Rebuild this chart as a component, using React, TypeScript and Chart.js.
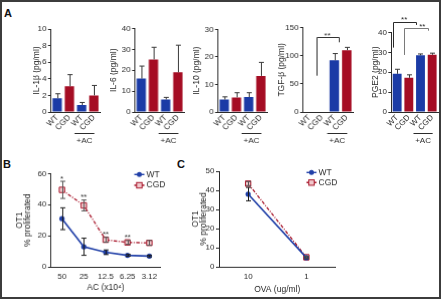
import React, { useEffect, useRef } from "react";
import { Chart, registerables } from "chart.js";

Chart.register(...registerables);

// ---------------- data ----------------
const barCategories = ["WT", "CGD", "WT", "CGD"];

const il1bValues = [1.65, 3.1, 0.85, 2.0];
const il1bErrors = [0.55, 1.4, 0.3, 1.2];

const il6Values = [16, 25.2, 6, 19];
const il6Errors = [6, 5.8, 1, 13];

const il10Values = [4.5, 5.3, 5.4, 13.1];
const il10Errors = [1, 1.7, 1.6, 4.9];

const tgfValues = [0, 0, 92, 110];
const tgfErrors = [0, 0, 12, 5];

const pge2Values = [19.2, 17.2, 28.5, 28.8];
const pge2Errors = [2.3, 1.5, 0.7, 0.8];

const acLabels = ["50", "25", "12.5", "6.25", "3.12"];
const wtAc = [31, 13, 9.5, 7.5, 7];
const wtAcErr = [7, 5.5, 1.5, 0.6, 0.5];
const cgdAc = [49.5, 39.5, 17.5, 15.8, 15.5];
const cgdAcErr = [5.5, 3.5, 1.5, 1.2, 1.5];
const acSignificance = ["*", "**", "**", "**", ""];

const ovaLabels = ["10", "1"];
const wtOva = [38, 4.8];
const wtOvaErr = [3.5, 0.5];
const cgdOva = [43.5, 5];
const cgdOvaErr = [1, 0.4];

// ---------------- styles ----------------
const FONT = '"Liberation Sans Narrow", "Liberation Sans", Arial, Helvetica, sans-serif';
const AXIS = "#2b2b2b";
const TXT = "#2b2b2b";
const BAR_BLUE = "#1b3ba6";
const BAR_RED = "#a50d24";
const LINE_BLUE = "#2140a8";
const LINE_RED = "#a8172b";
const SQ_FILL = "#f1c9cd";
const barColors = [BAR_BLUE, BAR_RED, BAR_BLUE, BAR_RED];
const TICK_SIZE = 8;
const TITLE_SIZE = 8.5;
const TITLE_LH = 0.9;

type Box = { left: number; top: number; width: number; height: number };
type Area = { left: number; right: number; top: number; bottom: number };

function layoutFor(box: Box, area: Area) {
  return {
    padding: {
      left: 0,
      top: area.top - box.top,
      right: box.left + box.width - area.right,
      bottom: 0,
    },
  };
}
const yFit = (w: number) => (s: any) => {
  s.width = w;
  s.paddingTop = 0;
  s.paddingBottom = 0;
  s.paddingLeft = 0;
  s.paddingRight = 0;
};
const xFit = (h: number) => (s: any) => {
  s.height = h;
  s.paddingTop = 0;
  s.paddingBottom = 0;
  s.paddingLeft = 0;
  s.paddingRight = 0;
};

function ChartCanvas({ box, build }: { box: Box; build: () => any }) {
  const ref = useRef<HTMLCanvasElement>(null);
  useEffect(() => {
    const chart = new Chart(ref.current as HTMLCanvasElement, build());
    return () => chart.destroy();
  }, []);
  return (
    <canvas
      ref={ref}
      width={box.width}
      height={box.height}
      style={{ position: "absolute", left: box.left, top: box.top, width: box.width, height: box.height }}
    />
  );
}

// ---------------- bar panels ----------------
type Bracket = { x1: number; x2: number; y: number; y1: number; y2: number; color: string };
type Star = { x: number; y: number; text: string };

function barExtras(errors: number[], brackets: Bracket[], stars: Star[]) {
  return {
    id: "barExtras",
    afterDatasetsDraw(chart: any) {
      const ctx = chart.ctx as CanvasRenderingContext2D;
      const xs = chart.scales.x;
      const ys = chart.scales.y;
      const meta = chart.getDatasetMeta(0);
      const data = chart.data.datasets[0].data as number[];
      ctx.save();
      ctx.strokeStyle = "#3a3a3a";
      ctx.lineWidth = 1;
      meta.data.forEach((bar: any, i: number) => {
        const e = errors[i];
        if (!e) return;
        const px = Math.round(bar.x) + 0.5;
        const top = ys.getPixelForValue(data[i] + e);
        ctx.beginPath();
        ctx.moveTo(px, bar.y);
        ctx.lineTo(px, top);
        ctx.moveTo(px - 2.5, top);
        ctx.lineTo(px + 2.5, top);
        ctx.stroke();
      });
      // +AC group line
      const gx1 = xs.getPixelForValue(2) - 7;
      const gx2 = xs.getPixelForValue(3) + 0.5;
      ctx.strokeStyle = AXIS;
      ctx.beginPath();
      ctx.moveTo(gx1, 133.5);
      ctx.lineTo(gx2, 133.5);
      ctx.stroke();
      ctx.fillStyle = TXT;
      ctx.font = `${TICK_SIZE}px ${FONT}`;
      ctx.textAlign = "center";
      ctx.textBaseline = "middle";
      ctx.fillText("+AC", (gx1 + gx2) / 2, 141);
      // brackets
      brackets.forEach((b) => {
        const x1 = Math.round(xs.getPixelForValue(b.x1)) + 0.5;
        const x2 = Math.round(xs.getPixelForValue(b.x2)) + 0.5;
        const y = Math.round(ys.getPixelForValue(b.y)) + 0.5;
        ctx.strokeStyle = b.color;
        ctx.beginPath();
        ctx.moveTo(x1, ys.getPixelForValue(b.y1));
        ctx.lineTo(x1, y);
        ctx.lineTo(x2, y);
        ctx.lineTo(x2, ys.getPixelForValue(b.y2));
        ctx.stroke();
      });
      ctx.textBaseline = "alphabetic";
      stars.forEach((s) => {
        ctx.fillText(s.text, xs.getPixelForValue(s.x), ys.getPixelForValue(s.y) + 4.5);
      });
      ctx.restore();
    },
  };
}

type BarPanelDef = {
  key: string;
  values: number[];
  errors: number[];
  max: number;
  step: number;
  title: string;
  titleX: number;
  axL: number;
  axR: number;
  axT: number;
  brackets: Bracket[];
  stars: Star[];
};

function BarPanel({ p }: { p: BarPanelDef }) {
  const axB = 112;
  const left = p.titleX - (TITLE_SIZE * TITLE_LH) / 2;
  const box: Box = { left, top: 0, width: Math.min(441, p.axR + 3) - left, height: 150 };
  const area: Area = { left: p.axL, right: p.axR, top: p.axT, bottom: axB };
  const build = () => ({
    type: "bar",
    data: {
      labels: barCategories,
      datasets: [
        {
          data: p.values,
          backgroundColor: barColors,
          borderWidth: 0,
          barPercentage: 0.76,
          categoryPercentage: 1,
        },
      ],
    },
    options: {
      animation: false,
      responsive: false,
      devicePixelRatio: 1,
      layout: layoutFor(box, area),
      plugins: { legend: { display: false }, tooltip: { enabled: false } },
      scales: {
        x: {
          grid: { display: false, drawTicks: false },
          border: { display: true, color: AXIS, width: 1 },
          ticks: {
            font: { family: FONT, size: TICK_SIZE },
            color: TXT,
            minRotation: 45,
            maxRotation: 45,
            autoSkip: false,
            padding: 1,
          },
          afterFit: xFit(box.top + box.height - axB),
        },
        y: {
          min: 0,
          max: p.max,
          ticks: { stepSize: p.step, font: { family: FONT, size: TICK_SIZE }, color: TXT, padding: 1.5 },
          grid: { display: true, drawOnChartArea: false, drawTicks: true, tickLength: 3, color: AXIS },
          border: { display: true, color: AXIS, width: 1 },
          title: {
            display: true,
            text: p.title,
            font: { family: FONT, size: TITLE_SIZE, lineHeight: TITLE_LH },
            color: TXT,
            padding: 0,
          },
          afterFit: yFit(p.axL - left),
        },
      },
    },
    plugins: [barExtras(p.errors, p.brackets, p.stars)],
  });
  return <ChartCanvas box={box} build={build} />;
}

const barPanels: BarPanelDef[] = [
  { key: "il1b", values: il1bValues, errors: il1bErrors, max: 10, step: 2, title: "IL-1β (pg/ml)", titleX: 37, axL: 51, axR: 100, axT: 29, brackets: [], stars: [] },
  { key: "il6", values: il6Values, errors: il6Errors, max: 40, step: 10, title: "IL-6 (pg/ml)", titleX: 114, axL: 135, axR: 184, axT: 28.5, brackets: [], stars: [] },
  { key: "il10", values: il10Values, errors: il10Errors, max: 30, step: 10, title: "IL-10 (pg/ml)", titleX: 197, axL: 218, axR: 267, axT: 29.3, brackets: [], stars: [] },
  {
    key: "tgf", values: tgfValues, errors: tgfErrors, max: 150, step: 50, title: "TGF-β (pg/ml)", titleX: 282, axL: 303, axR: 353, axT: 27.7,
    brackets: [{ x1: 0.54, x2: 2.4, y: 132.9, y1: 64.6, y2: 124, color: "#333" }],
    stars: [{ x: 1.44, y: 140.4, text: "**" }],
  },
  {
    key: "pge2", values: pge2Values, errors: pge2Errors, max: 40, step: 10, title: "PGE2 (pg/ml)", titleX: 375.5, axL: 391, axR: 438, axT: 32.5,
    brackets: [
      { x1: -0.36, x2: 1.6, y: 45.4, y1: 32.4, y2: 43.8, color: "#2a2a2a" },
      { x1: 0.55, x2: 2.65, y: 42.1, y1: 28.7, y2: 40.9, color: "#7a7a7a" },
    ],
    stars: [
      { x: 0.6, y: 47.5, text: "**" },
      { x: 2.15, y: 44.0, text: "**" },
    ],
  },
];

// ---------------- line panels ----------------
type LegendItem = { label: string; color: string; dash: number[]; marker: "circle" | "square" };

function lineExtras(
  errs: number[][],
  errColors: string[],
  stars: string[] | null,
  legend: { x: number; y: number; gap: number; items: LegendItem[] }
) {
  return {
    id: "lineExtras",
    afterDatasetsDraw(chart: any) {
      const ctx = chart.ctx as CanvasRenderingContext2D;
      const ys = chart.scales.y;
      ctx.save();
      ctx.lineWidth = 1;
      errs.forEach((arr, di) => {
        const meta = chart.getDatasetMeta(di);
        const data = chart.data.datasets[di].data as number[];
        ctx.strokeStyle = errColors[di];
        meta.data.forEach((pt: any, i: number) => {
          const e = arr[i];
          if (!e) return;
          const x = Math.round(pt.x) + 0.5;
          const top = ys.getPixelForValue(data[i] + e);
          const bot = ys.getPixelForValue(data[i] - e);
          ctx.beginPath();
          ctx.moveTo(x, top);
          ctx.lineTo(x, bot);
          ctx.moveTo(x - 2.5, top);
          ctx.lineTo(x + 2.5, top);
          ctx.moveTo(x - 2.5, bot);
          ctx.lineTo(x + 2.5, bot);
          ctx.stroke();
        });
      });
      if (stars) {
        const meta = chart.getDatasetMeta(1);
        const data = chart.data.datasets[1].data as number[];
        ctx.fillStyle = TXT;
        ctx.font = `${TICK_SIZE}px ${FONT}`;
        ctx.textAlign = "center";
        ctx.textBaseline = "alphabetic";
        meta.data.forEach((pt: any, i: number) => {
          if (!stars[i]) return;
          const top = ys.getPixelForValue(data[i] + errs[1][i]);
          ctx.fillText(stars[i], pt.x, top - 5 + 4.5);
        });
      }
      // legend
      legend.items.forEach((it, i) => {
        const yy = legend.y + i * legend.gap;
        const x = legend.x;
        ctx.save();
        ctx.strokeStyle = it.color;
        ctx.lineWidth = 1.4;
        ctx.setLineDash(it.dash);
        ctx.beginPath();
        ctx.moveTo(x, yy);
        ctx.lineTo(x + 10, yy);
        ctx.stroke();
        ctx.setLineDash([]);
        if (it.marker === "circle") {
          ctx.fillStyle = it.color;
          ctx.beginPath();
          ctx.arc(x + 5, yy, 2.5, 0, Math.PI * 2);
          ctx.fill();
        } else {
          ctx.fillStyle = SQ_FILL;
          ctx.fillRect(x + 2.3, yy - 2.7, 5.4, 5.4);
          ctx.strokeStyle = it.color;
          ctx.lineWidth = 1;
          ctx.strokeRect(x + 2.3, yy - 2.7, 5.4, 5.4);
        }
        ctx.fillStyle = TXT;
        ctx.font = `${TITLE_SIZE}px ${FONT}`;
        ctx.textAlign = "left";
        ctx.textBaseline = "middle";
        ctx.fillText(it.label, x + 12, yy);
        ctx.restore();
      });
      ctx.restore();
    },
  };
}

const legendItems: LegendItem[] = [
  { label: "WT", color: LINE_BLUE, dash: [], marker: "circle" },
  { label: "CGD", color: LINE_RED, dash: [3.5, 1.5, 1, 1.5], marker: "square" },
];

function LinePanel(props: {
  box: Box;
  area: Area;
  labels: string[];
  wt: number[];
  wtErr: number[];
  cgd: number[];
  cgdErr: number[];
  max: number;
  step: number;
  xTitle: string;
  stars: string[] | null;
  legendAt: { x: number; y: number; gap: number };
}) {
  const { box, area } = props;
  const build = () => ({
    type: "line",
    data: {
      labels: props.labels,
      datasets: [
        {
          label: "WT",
          data: props.wt,
          borderColor: LINE_BLUE,
          backgroundColor: LINE_BLUE,
          borderWidth: 1.6,
          pointStyle: "circle",
          pointRadius: 2.6,
          pointBackgroundColor: LINE_BLUE,
          pointBorderColor: LINE_BLUE,
          pointBorderWidth: 0,
          tension: 0,
        },
        {
          label: "CGD",
          data: props.cgd,
          borderColor: LINE_RED,
          backgroundColor: SQ_FILL,
          borderWidth: 1.3,
          borderDash: [3.5, 1.5, 1, 1.5],
          pointStyle: "rect",
          pointRadius: 3.8,
          pointBackgroundColor: SQ_FILL,
          pointBorderColor: LINE_RED,
          pointBorderWidth: 1,
          tension: 0,
        },
      ],
    },
    options: {
      animation: false,
      responsive: false,
      devicePixelRatio: 1,
      layout: layoutFor(box, area),
      plugins: { legend: { display: false }, tooltip: { enabled: false } },
      scales: {
        x: {
          offset: true,
          grid: { display: false, drawTicks: false },
          border: { display: true, color: AXIS, width: 1 },
          ticks: { font: { family: FONT, size: TICK_SIZE }, color: TXT, padding: 5, autoSkip: false, maxRotation: 0 },
          title: { display: true, text: props.xTitle, font: { family: FONT, size: TITLE_SIZE }, color: TXT, padding: 0 },
          afterFit: xFit(box.top + box.height - area.bottom),
        },
        y: {
          min: 0,
          max: props.max,
          ticks: { stepSize: props.step, font: { family: FONT, size: TICK_SIZE }, color: TXT, padding: 1.5 },
          grid: { display: true, drawOnChartArea: false, drawTicks: true, tickLength: 3, color: AXIS },
          border: { display: true, color: AXIS, width: 1 },
          title: {
            display: true,
            text: ["OT1", "% proliferated"],
            font: { family: FONT, size: TITLE_SIZE, lineHeight: TITLE_LH },
            color: TXT,
            padding: 0,
          },
          afterFit: yFit(area.left - box.left),
        },
      },
    },
    plugins: [
      lineExtras([props.wtErr, props.cgdErr], ["#1a1a1a", "#555555"], props.stars, {
        ...props.legendAt,
        items: legendItems,
      }),
    ],
  });
  return <ChartCanvas box={box} build={build} />;
}

const letterStyle = (left: number, top: number): React.CSSProperties => ({
  position: "absolute",
  left,
  top,
  fontFamily: '"Liberation Sans", Arial, sans-serif',
  fontWeight: "bold",
  fontSize: 11,
  lineHeight: "11px",
  color: "#111",
});

export default function App() {
  return (
    <div style={{ position: "absolute", left: 0, top: 0, width: 441, height: 300, background: "#fff", overflow: "hidden" }}>
      <div
        style={{
          position: "absolute",
          left: 0,
          top: 0,
          width: 441,
          height: 299,
          border: "2px solid #3c3c3c",
          boxSizing: "border-box",
        }}
      />
      <div style={letterStyle(4, 8)}>A</div>
      <div style={letterStyle(3, 159)}>B</div>
      <div style={letterStyle(177, 159)}>C</div>
      {barPanels.map((p) => (
        <BarPanel key={p.key} p={p} />
      ))}
      <LinePanel
        box={{ left: 16.2, top: 150, width: 152.5, height: 142.5 }}
        area={{ left: 51, right: 160, top: 173.3, bottom: 266.7 }}
        labels={acLabels}
        wt={wtAc}
        wtErr={wtAcErr}
        cgd={cgdAc}
        cgdErr={cgdAcErr}
        max={60}
        step={20}
        xTitle="AC (x10⁴)"
        stars={acSignificance}
        legendAt={{ x: 117.5, y: 24.3, gap: 10.7 }}
      />
      <LinePanel
        box={{ left: 191.5, top: 150, width: 154, height: 144.5 }}
        area={{ left: 218.5, right: 335, top: 171, bottom: 266.5 }}
        labels={ovaLabels}
        wt={wtOva}
        wtErr={wtOvaErr}
        cgd={cgdOva}
        cgdErr={cgdOvaErr}
        max={50}
        step={10}
        xTitle="OVA (ug/ml)"
        stars={null}
        legendAt={{ x: 114.5, y: 22.3, gap: 10 }}
      />
    </div>
  );
}
